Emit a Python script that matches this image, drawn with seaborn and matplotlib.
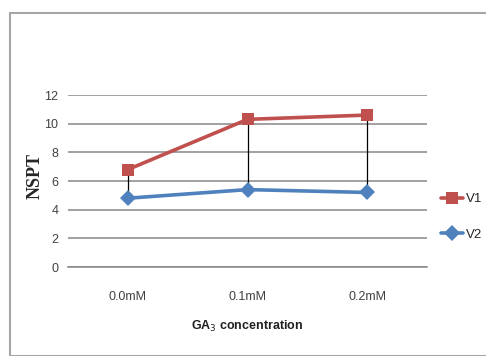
import matplotlib
matplotlib.use("Agg")
import matplotlib.pyplot as plt
import seaborn as sns
import pandas as pd
from matplotlib.patches import Rectangle
from matplotlib.lines import Line2D

categories = ["0.0mM", "0.1mM", "0.2mM"]
v1 = [6.8, 10.3, 10.6]
v2 = [4.8, 5.4, 5.2]
series_names = ["V1", "V2"]
y_ticks = [0, 2, 4, 6, 8, 10, 12]

sns.set_theme(style="white")
plt.rcParams['font.family'] = ['Liberation Sans', 'DejaVu Sans']

df = pd.DataFrame({
    "x": list(range(len(categories))) * 2,
    "value": v1 + v2,
    "series": [series_names[0]] * len(v1) + [series_names[1]] * len(v2),
})

fig = plt.figure(figsize=(4.86, 3.56), dpi=100)
ax = fig.add_axes([68/486, 1-267/356, 359/486, 172/356])

# outer chart frame
fig.patches.append(Rectangle((10/486, 0.5/356), 1.0, 343/356, transform=fig.transFigure,
                             fill=False, edgecolor="#A6A6A6", linewidth=1.5, clip_on=False))

colors = {"V1": "#C0504D", "V2": "#4F81BD"}
markers = {"V1": "s", "V2": "D"}

# high-low lines
ax.vlines(range(len(categories)), v2, v1, color="black", linewidth=0.9, zorder=2)

sns.lineplot(data=df, x="x", y="value", hue="series", style="series",
             palette=colors, markers=markers, dashes=False, markersize=8,
             linewidth=2.6, markeredgewidth=0, ax=ax, zorder=3, legend=False)

ax.set_xlim(-0.5, 2.5)
ax.set_ylim(0, 12)
ax.set_yticks(y_ticks)
ax.set_xticks(range(len(categories)))
ax.set_xticklabels(categories, fontsize=9, color="#404040")
ax.tick_params(axis="y", labelsize=9, labelcolor="#404040", length=4, color="#868686", width=0.8, pad=3)
ax.tick_params(axis="x", length=0, pad=17)
ax.yaxis.grid(True, color="#868686", linewidth=1.1)
ax.set_axisbelow(True)
for s in ["top", "right", "left"]:
    ax.spines[s].set_visible(False)
ax.spines["bottom"].set_color("#868686")
ax.spines["bottom"].set_linewidth(1.1)

ax.set_ylabel("NSPT", fontsize=13, fontweight="bold", family=["Liberation Serif", "DejaVu Serif"])
ax.yaxis.set_label_coords(-0.068, 0.53)
ax.set_xlabel("GA$_3$ concentration", fontsize=9, fontweight="bold", color="#202020", labelpad=12)
ax.set_facecolor("white")

handles = [Line2D([0], [0], color=colors[n], marker=markers[n], markersize=8,
                  linewidth=2.6, markeredgewidth=0) for n in series_names]
fig.legend(handles, series_names, loc="center left", bbox_to_anchor=(434/486, 1-217/356),
           frameon=False, fontsize=9.5, handlelength=1.7, handletextpad=0.2, labelspacing=1.75,
           borderpad=0)

fig.savefig("out.png", dpi=100, facecolor="white")
